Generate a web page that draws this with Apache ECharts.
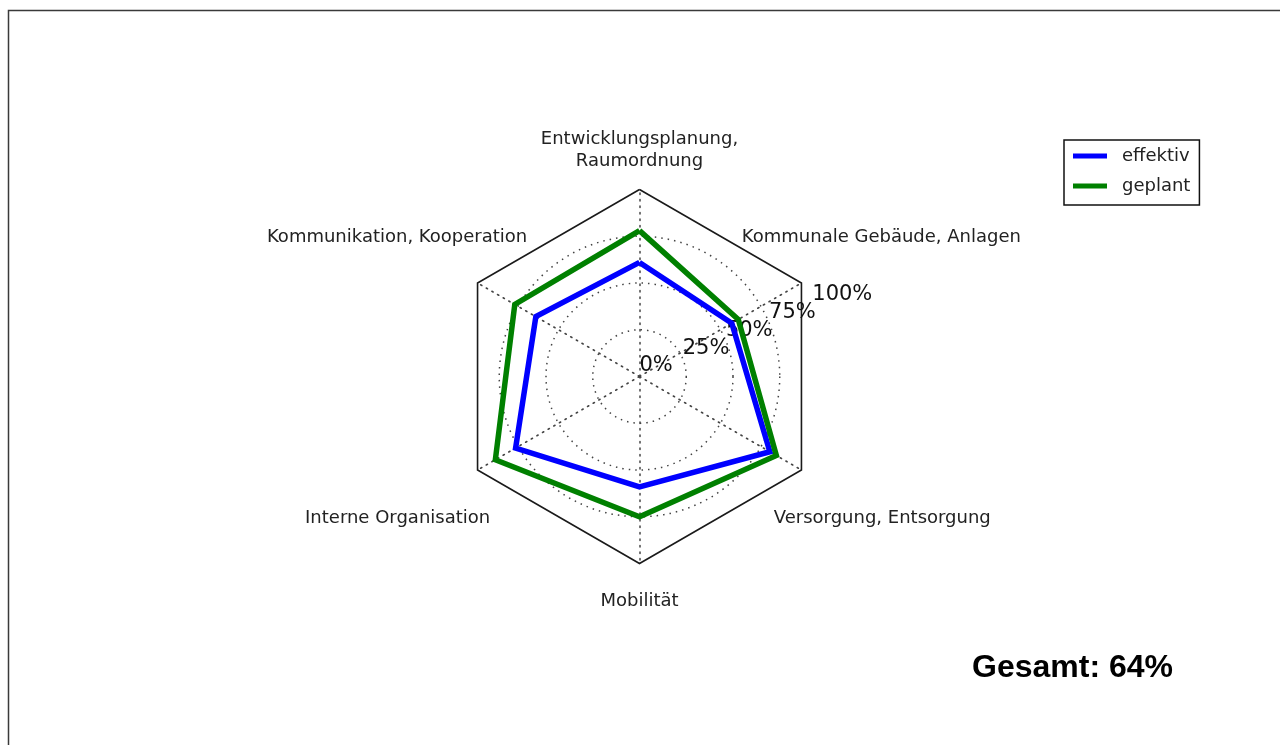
<!DOCTYPE html>
<html>
<head>
<meta charset="utf-8">
<script src="https://cdn.jsdelivr.net/npm/echarts@6/dist/echarts.min.js"></script>
<style>
  html, body { margin: 0; padding: 0; background: #fff; }
  #chart { width: 1280px; height: 745px; }
</style>
</head>
<body>
<div id="chart"></div>
<script>
// ---- data ----
const categories = [
  'Entwicklungsplanung,\nRaumordnung',
  'Kommunikation, Kooperation',
  'Interne Organisation',
  'Mobilität',
  'Versorgung, Entsorgung',
  'Kommunale Gebäude, Anlagen'
];
const effektiv = [61, 64, 76.5, 59, 80.5, 57];
const geplant = [78, 77, 89, 75, 84.5, 61];
const seriesNames = ['effektiv', 'geplant'];
const radialTicks = [0, 25, 50, 75, 100];
const totalText = 'Gesamt: 64%';

// ---- layout helpers (label placement only) ----
const nameLayout = [
  { below: 87 },
  { below: 162, right: 11 },
  { above: 166, right: 48 },
  { above: 97 },
  { above: 166, left: 33 },
  { below: 162, left: 1 }
];
const FONT = 'DejaVu Sans';
const rich = { n: { fontSize: 18, lineHeight: 22, fontFamily: FONT, color: '#222' } };
nameLayout.forEach((l, i) => {
  const v = l.above || l.below;
  if (v) rich['h' + i] = { lineHeight: v, fontSize: 1 };
  const w = l.left || l.right;
  if (w) rich['w' + i] = { width: w, fontSize: 1, lineHeight: 22 };
});
function nameFormatter(name) {
  const i = categories.indexOf(name);
  const l = nameLayout[i] || {};
  let lines = name.split('\n').map(t =>
    (l.left ? '{w' + i + '| }' : '') + '{n|' + t + '}' + (l.right ? '{w' + i + '| }' : ''));
  if (l.above) lines.unshift('{h' + i + '| }');
  if (l.below) lines.push('{h' + i + '| }');
  return lines.join('\n');
}

const CX = 639.5, CY = 376.5, R = 187;
const rMin = radialTicks[0], rMax = radialTicks[radialTicks.length - 1];
const rStep = radialTicks[1] - radialTicks[0];
const radialLabelStyle = {
  fontFamily: FONT, fontSize: 21, color: '#111',
  align: 'left', verticalAlign: 'bottom', margin: 0, rotate: 0,
  showMinLabel: true, showMaxLabel: true
};

const chart = echarts.init(document.getElementById('chart'), null, { renderer: 'canvas' });
chart.setOption({
  backgroundColor: '#fff',
  animation: false,
  color: ['#0000ff', '#008000'],
  graphic: [{
    type: 'rect', silent: true, z: -10,
    shape: { x: 8.5, y: 10.5, width: 1400, height: 900 },
    style: { fill: 'none', stroke: '#3a3a3a', lineWidth: 1.5 }
  }],
  title: {
    text: totalText, left: 972, top: 652, padding: 0,
    textStyle: { fontFamily: 'Liberation Sans', fontWeight: 'bold', fontSize: 32, color: '#000' }
  },
  legend: {
    orient: 'vertical', left: 1064, top: 140,
    padding: [7, 9, 10, 9], itemGap: 12,
    itemWidth: 34, itemHeight: 5, icon: 'rect',
    backgroundColor: '#fff', borderColor: '#111', borderWidth: 1.5, borderRadius: 0,
    textStyle: { fontFamily: FONT, fontSize: 18, color: '#222', padding: [0, 0, 0, 10] },
    data: seriesNames
  },
  polar: [
    { center: [CX, CY], radius: R },
    { center: [CX, CY], radius: R }
  ],
  angleAxis: [
    { polarIndex: 0, type: 'value', min: 0, max: 360, startAngle: 22.5, show: false },
    { polarIndex: 1, type: 'value', min: 0, max: 360, startAngle: 22.5, show: false }
  ],
  radiusAxis: [{
    polarIndex: 0,
    type: 'value', min: rMin, max: rMax, interval: rStep,
    axisLine: { show: false }, axisTick: { show: false },
    axisLabel: Object.assign({ formatter: v => (v === rMax ? '' : v + '%') }, radialLabelStyle),
    splitLine: {
      show: true,
      lineStyle: { type: [1.5, 5], width: 1.5, color: ['#444', '#444', '#444', '#444', 'rgba(0,0,0,0)'] }
    }
  }, {
    polarIndex: 1,
    type: 'value', min: rMin, max: rMax, interval: rStep,
    axisLine: { show: false }, axisTick: { show: false }, splitLine: { show: false },
    axisLabel: Object.assign({ formatter: v => (v === rMax ? v + '%' : '') }, radialLabelStyle)
  }],
  radar: {
    center: [CX, CY], radius: R, startAngle: 90, shape: 'polygon', splitNumber: 1,
    indicator: categories.map(n => ({ name: n, min: 0, max: 100 })),
    axisName: { formatter: nameFormatter, fontFamily: FONT, fontSize: 18, lineHeight: 22, color: '#222', rich: rich },
    axisNameGap: -70,
    splitLine: { lineStyle: { color: '#1a1a1a', width: 1.6 } },
    splitArea: { show: false },
    axisLine: { lineStyle: { color: '#444', type: [1.5, 5], width: 1.5 } },
    axisTick: { show: false },
    axisLabel: { show: false }
  },
  series: [{
    type: 'radar',
    symbol: 'none',
    lineStyle: { width: 5.5, join: 'miter' },
    data: [
      { name: seriesNames[0], value: effektiv, lineStyle: { color: '#0000ff', width: 5.5 }, itemStyle: { color: '#0000ff' } },
      { name: seriesNames[1], value: geplant, lineStyle: { color: '#008000', width: 5.5 }, itemStyle: { color: '#008000' } }
    ]
  }]
});
</script>
</body>
</html>
